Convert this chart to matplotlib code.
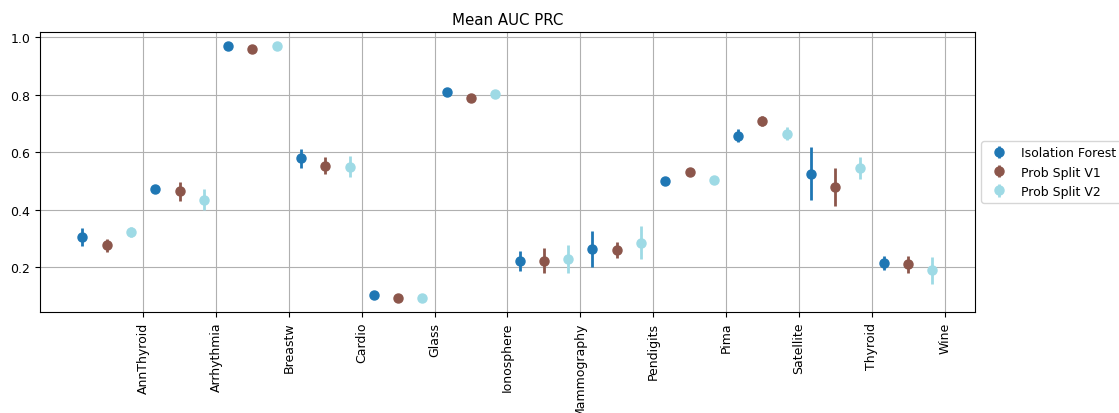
import matplotlib
matplotlib.use('Agg')
import matplotlib.pyplot as plt
import numpy as np

datasets = ['AnnThyroid', 'Arrhythmia', 'Breastw', 'Cardio', 'Glass', 'Ionosphere',
            'Mammography', 'Pendigits', 'Pima', 'Satellite', 'Thyroid', 'Wine']
models = ['Isolation Forest', 'Prob Split V1', 'Prob Split V2']

iforest_mean = [0.305, 0.474, 0.971, 0.579, 0.105, 0.809, 0.223, 0.264, 0.502, 0.658, 0.526, 0.215]
iforest_err = [0.031, 0.004, 0.003, 0.034, 0.003, 0.003, 0.035, 0.063, 0.003, 0.023, 0.091, 0.025]
v1_mean = [0.277, 0.465, 0.960, 0.554, 0.092, 0.790, 0.223, 0.260, 0.530, 0.709, 0.479, 0.210]
v1_err = [0.022, 0.033, 0.003, 0.030, 0.003, 0.003, 0.044, 0.027, 0.003, 0.018, 0.067, 0.030]
v2_mean = [0.324, 0.435, 0.971, 0.550, 0.095, 0.802, 0.230, 0.286, 0.503, 0.665, 0.547, 0.190]
v2_err = [0.017, 0.036, 0.003, 0.036, 0.003, 0.003, 0.048, 0.057, 0.003, 0.022, 0.038, 0.047]

means = [iforest_mean, v1_mean, v2_mean]
errs = [iforest_err, v1_err, v2_err]
colors = plt.cm.tab20([0.0, 0.5, 1.0])

plt.rcParams['font.size'] = 9

fig = plt.figure(figsize=(11.19, 4.14), dpi=100)
ax = fig.add_axes([0.0357, 0.244, 0.8356, 0.676])

x = np.arange(len(datasets))
for i, mod in enumerate(models):
    ax.errorbar(x + (i - 1) / 3, means[i], yerr=errs[i], fmt='o', color=colors[i],
                markersize=6.5, elinewidth=2, label=mod)

ax.set_xticks(x + 0.5)
ax.set_xticklabels(datasets, rotation=90)
ax.set_title('Mean AUC PRC', fontsize=10.8)
ax.grid(True)
ax.legend(loc='center left', bbox_to_anchor=(1, 0.5))

plt.savefig('out.png', dpi=100)
